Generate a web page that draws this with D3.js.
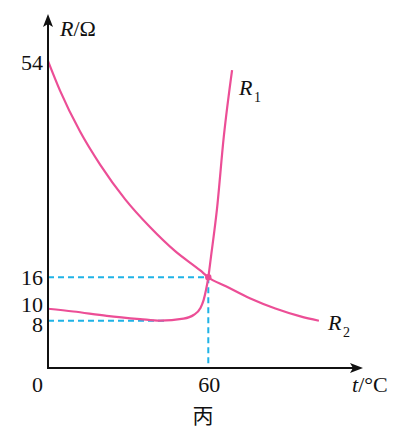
<!DOCTYPE html>
<html><head><meta charset="utf-8">
<script src="https://cdn.jsdelivr.net/npm/d3@7/dist/d3.min.js"></script>
<style>
html,body{margin:0;padding:0;background:#fff;}
svg{display:block;}
</style></head>
<body><svg id="c" width="402" height="440"></svg>
<script>
// ---- data ----
const r2T = [0, 4.5, 12, 19.5, 28.9, 38.25, 47.6, 57, 60, 66.4, 75.75, 85.1, 94.5, 101.4];
const r2R = [54, 48.8, 41.6, 35.8, 29.7, 24.8, 20.6, 17.2, 16, 14.4, 12.1, 10.25, 8.8, 8.0];
const r1T = [0, 9.5, 22, 34.5, 42, 50.7, 54.5, 57, 58.24, 59.14, 60, 61.0, 63.2, 65.8, 68.9];
const r1R = [10.2, 9.7, 8.9, 8.3, 8.0, 8.37, 9.05, 10.29, 11.8, 13.66, 16, 19.6, 27.8, 40.7, 52.4];
const yTicks = [54, 16, 10, 8];
const xTicks = [0, 60];
const crossT = 60, crossR = 16;
const minT = 44, minR = 8;
const seriesNames = ["1", "2"];

// ---- scales ----
const x = d3.scaleLinear().domain([0, 60]).range([48, 208.3]);
const y = d3.scaleLinear().domain([0, 8, 16, 54]).range([368, 320.7, 277.3, 61]);

const SERIF = '"Liberation Serif", "Times New Roman", Times, "DejaVu Serif", serif';
const svg = d3.select("#c").style("font-family", SERIF);
const pink = "#ec4e96", cyan = "#1fb3e6";

// dashed guides
const dash = svg.append("g").attr("stroke", cyan).attr("stroke-width", 2)
  .attr("stroke-dasharray", "6,4").attr("fill", "none");
dash.append("line").attr("x1", x(0)).attr("x2", x(crossT)).attr("y1", y(crossR)).attr("y2", y(crossR));
dash.append("line").attr("x1", x(0)).attr("x2", x(minT)).attr("y1", y(minR)).attr("y2", y(minR));
dash.append("line").attr("x1", x(crossT)).attr("x2", x(crossT)).attr("y1", y(crossR)).attr("y2", y(0));

// curves
const line = d3.line().x(d => x(d[0])).y(d => y(d[1])).curve(d3.curveMonotoneX);
svg.append("path").datum(r2T.map((t, i) => [t, r2R[i]]))
  .attr("d", line).attr("fill", "none").attr("stroke", pink).attr("stroke-width", 2.2);
svg.append("path").datum(r1T.map((t, i) => [t, r1R[i]]))
  .attr("d", line).attr("fill", "none").attr("stroke", pink).attr("stroke-width", 2.2);
svg.append("circle").attr("cx", x(crossT)).attr("cy", y(crossR)).attr("r", 3.2).attr("fill", pink);

// axes lines
const ax = svg.append("g").attr("stroke", "#111").attr("stroke-width", 2);
ax.append("line").attr("x1", x(0)).attr("x2", x(0)).attr("y1", y(0) + 1).attr("y2", 22);
ax.append("line").attr("x1", x(0) - 1).attr("x2", 355).attr("y1", y(0)).attr("y2", y(0));
svg.append("path").attr("d", `M${x(0)},14 L${x(0) + 5},27 L${x(0)},24 L${x(0) - 5},27 Z`).attr("fill", "#111");
svg.append("path").attr("d", `M363,${y(0)} L350,${y(0) - 5} L353,${y(0)} L350,${y(0) + 5} Z`).attr("fill", "#111");

// y tick labels
const nudge = {54: 1, 16: 0, 10: -6, 8: 3.5};
const yAxis = svg.append("g").attr("transform", `translate(${x(0)},0)`)
  .call(d3.axisLeft(y).tickValues(yTicks).tickSize(0).tickPadding(5).tickFormat(d3.format("d")));
yAxis.attr("font-family", null).attr("font-size", null);
yAxis.select(".domain").remove();
yAxis.selectAll("text").style("font-family", SERIF).attr("font-size", 22).attr("fill", "#111")
  .attr("dy", d => (7.5 + nudge[d]) + "px");

// x tick labels
svg.append("g").selectAll("text").data(xTicks).join("text")
  .style("font-family", SERIF)
  .attr("x", d => d === 0 ? x(0) - 5 : x(d) + 1)
  .attr("y", y(0) + 24)
  .attr("text-anchor", d => d === 0 ? "end" : "middle")
  .attr("font-size", 22).attr("fill", "#111").text(d => d);

// axis titles
const yt = svg.append("text").style("font-family", SERIF).attr("x", 60).attr("y", 36).attr("font-size", 22).attr("fill", "#111");
yt.append("tspan").attr("font-style", "italic").text("R");
yt.append("tspan").text("/Ω");
const xt = svg.append("text").style("font-family", SERIF).attr("x", 352).attr("y", 392).attr("font-size", 22).attr("fill", "#111");
xt.append("tspan").attr("font-style", "italic").text("t");
xt.append("tspan").text("/°C");

// series labels
const lab = [[239, 95, 254, 102], [328, 330, 343, 337]];
seriesNames.forEach((n, i) => {
  svg.append("text").style("font-family", SERIF).attr("x", lab[i][0]).attr("y", lab[i][1]).attr("font-size", 22)
    .attr("font-style", "italic").attr("fill", "#111").text("R");
  svg.append("text").style("font-family", SERIF).attr("x", lab[i][2]).attr("y", lab[i][3]).attr("font-size", 14)
    .attr("fill", "#111").text(n);
});

svg.append("text").attr("x", 203).attr("y", 423).attr("text-anchor", "middle")
  .style("font-family", '"Noto Sans CJK SC", sans-serif').attr("font-size", 21).attr("fill", "#111").text("丙");
</script></body></html>
